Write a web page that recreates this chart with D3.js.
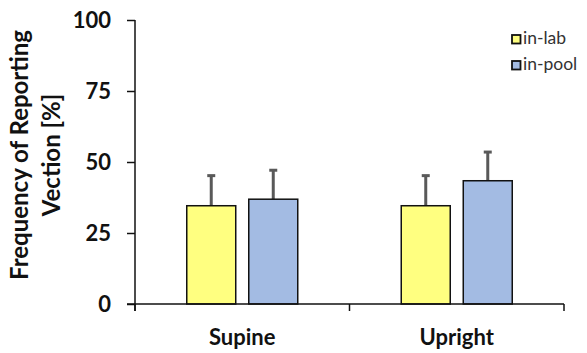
<!DOCTYPE html>
<html lang="en">
<head>
<meta charset="UTF-8">
<title>Vection frequency</title>
<script src="https://d3js.org/d3.v7.min.js"></script>
<style>
  body { margin: 0; background: #fff; }
  text { font-family: Lato, "Open Sans", sans-serif; }
</style>
</head>
<body>
<svg width="587" height="353"></svg>
<script>
// data
const categories = ["Supine", "Upright"];
const series = ["in-lab", "in-pool"];
const inLab = [34.6, 34.6];
const inPool = [36.9, 43.4];
const inLabErr = [10.6, 10.6];
const inPoolErr = [10.2, 10.1];
const yTicks = [0, 25, 50, 75, 100];
const colors = ["#ffff80", "#a3bbe3"];

const svg = d3.select("svg");
const x0 = 135, x1 = 564, yTop = 20, yBot = 304;

const x = d3.scaleBand().domain(categories).range([x0, x1]);
const xs = d3.scaleBand().domain(series).range([0, 111]).paddingInner(0.21);
const y = d3.scaleLinear().domain([0, 100]).range([yBot, yTop]);

const rows = categories.map((c, i) => ({
  cat: c,
  vals: [
    { s: "in-lab", v: inLab[i], e: inLabErr[i] },
    { s: "in-pool", v: inPool[i], e: inPoolErr[i] }
  ]
}));

// error bars behind bars
const g = svg.selectAll("g.cat").data(rows).enter().append("g")
  .attr("class", "cat")
  .attr("transform", d => "translate(" + (x(d.cat) + x.bandwidth() / 2 - 55.5) + ",0)");

g.selectAll("line.err").data(d => d.vals).enter().append("line")
  .attr("x1", d => xs(d.s) + xs.bandwidth() / 2)
  .attr("x2", d => xs(d.s) + xs.bandwidth() / 2)
  .attr("y1", d => y(d.v))
  .attr("y2", d => y(d.v + d.e))
  .attr("stroke", "#595959").attr("stroke-width", 3);
g.selectAll("line.cap").data(d => d.vals).enter().append("line")
  .attr("x1", d => xs(d.s) + xs.bandwidth() / 2 - 4)
  .attr("x2", d => xs(d.s) + xs.bandwidth() / 2 + 4)
  .attr("y1", d => y(d.v + d.e))
  .attr("y2", d => y(d.v + d.e))
  .attr("stroke", "#595959").attr("stroke-width", 3);

g.selectAll("rect").data(d => d.vals).enter().append("rect")
  .attr("x", d => xs(d.s))
  .attr("y", d => y(d.v))
  .attr("width", xs.bandwidth())
  .attr("height", d => yBot - y(d.v))
  .attr("fill", (d, i) => colors[i])
  .attr("stroke", "#111").attr("stroke-width", 1.5);

// y axis
const ya = svg.append("g").attr("transform", "translate(" + x0 + ",0)")
  .call(d3.axisLeft(y).tickValues(yTicks).tickSize(8).tickPadding(16));
ya.select(".domain").attr("d", "M0," + yTop + "V" + (yBot + 7)).attr("stroke", "#111").attr("stroke-width", 1.5);
ya.selectAll(".tick line").attr("stroke", "#111").attr("stroke-width", 1.5);
ya.selectAll(".tick text").attr("font-size", 22).attr("font-weight", "bold").attr("fill", "#111")
  .style("font-family", "Lato, sans-serif");

// x axis
const xa = svg.append("g").attr("transform", "translate(0," + yBot + ")")
  .call(d3.axisBottom(x).tickSize(0));
xa.select(".domain").remove();
xa.append("line").attr("x1", x0 - 8).attr("x2", x1).attr("stroke", "#111").attr("stroke-width", 1.5);
xa.selectAll("line.sep").data([x0, x1, x(categories[1])]).enter().append("line")
  .attr("x1", d => d).attr("x2", d => d).attr("y1", 0).attr("y2", 7)
  .attr("stroke", "#111").attr("stroke-width", 1.5);
xa.selectAll(".tick text").attr("y", 41).attr("dy", 0)
  .attr("font-size", 22).attr("font-weight", "bold").attr("fill", "#111")
  .style("font-family", "Lato, sans-serif");

// y title
const yt = svg.append("text")
  .attr("transform", "translate(0,155) rotate(-90)")
  .attr("text-anchor", "middle").attr("font-size", 24).attr("font-weight", "bold").attr("fill", "#111");
yt.append("tspan").attr("x", 0).attr("y", 28).text("Frequency of Reporting");
yt.append("tspan").attr("x", 0).attr("y", 60).text("Vection [%]");

// legend
const lg = svg.selectAll("g.leg").data(series).enter().append("g")
  .attr("transform", (d, i) => "translate(512," + (35 + i * 26) + ")");
lg.append("rect").attr("width", 8.5).attr("height", 8.5)
  .attr("fill", (d, i) => colors[i]).attr("stroke", "#111").attr("stroke-width", 1.8);
lg.append("text").attr("x", 11).attr("y", 9).attr("font-size", 17.5).attr("fill", "#333").text(d => d);
</script>
</body>
</html>
